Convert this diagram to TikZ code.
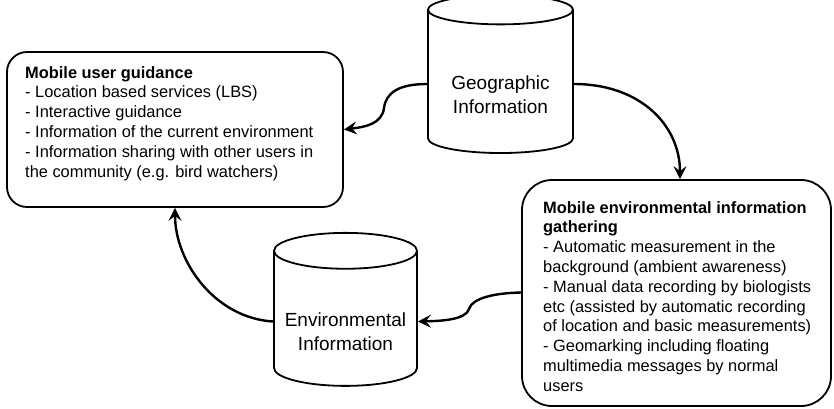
\documentclass[tikz,border=0pt]{standalone}
\usepackage{fontspec}
\setmainfont{Liberation Sans}
\usetikzlibrary{shapes.geometric,arrows.meta}
\tikzset{
  infobox/.style={draw,line width=1.8pt,rounded corners=20pt},
  infotext/.style={anchor=north west,inner sep=0pt,align=left,
    font=\fontsize{16.4}{19.8}\selectfont},
  store/.style={draw,line width=1.8pt,cylinder,shape border rotate=90,
    aspect=0.28,align=center,font=\fontsize{19}{24}\selectfont},
  flow/.style={->,line width=2.4pt}
}
\newcommand\lowerby[1]{\rule{0pt}{#1}}
\begin{document}
\begin{tikzpicture}[x=1pt,y=-1pt,>={Stealth[length=13pt,width=13pt,inset=5pt]}]
  \useasboundingbox (0,0) rectangle (834,408);
  % boxes
  \node[infobox,minimum width=336pt,minimum height=155pt] (guide) at (175,129.5) {};
  \node[infotext] (guidetext) at (25,66) {\textbf{Mobile user guidance}\\
    - Location based services (LBS)\\
    - Interactive guidance\\
    - Information of the current environment\\
    - Information sharing with other users in\\
    the community (e.g. bird watchers)};
  \node[infobox,rounded corners=30pt,minimum width=309pt,minimum height=226pt] (gather) at (676.5,293) {};
  \node[infotext] (gathertext) at (543,201) {\textbf{Mobile environmental information}\\
    \textbf{gathering}\\
    - Automatic measurement in the\\
    background (ambient awareness)\\
    - Manual data recording by biologists\\
    etc (assisted by automatic recording\\
    of location and basic measurements)\\
    - Geomarking including floating\\
    multimedia messages by normal\\
    users};
  % databases
  \node[store,minimum width=145pt,minimum height=158pt] (geo) at (500.5,84) {\lowerby{36pt}Geographic\\Information};
  \node[store,minimum width=143pt,minimum height=153pt] (env) at (345.5,321.5) {\lowerby{34pt}Environmental\\Information};
  % arrows
  \draw[flow] (geo.west) .. controls (400,84) and (386,92) .. (384,108)
    .. controls (382,124) and (365,127) .. (guide.east);
  \draw[flow] (geo.east) .. controls (640,84) and (680,125) .. ([xshift=3.5pt]gather.north);
  \draw[flow] ([yshift=0.5pt]gather.west) .. controls (495,293) and (472,298) .. (469,309)
    .. controls (466,320) and (440,321) .. (env.east);
  \draw[flow] (env.west) .. controls (215,318) and (175,262) .. (guide.south);
\end{tikzpicture}
\end{document}
